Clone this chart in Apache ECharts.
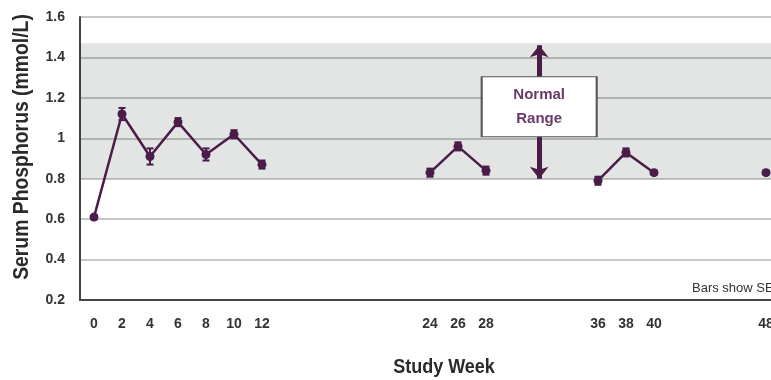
<!DOCTYPE html>
<html>
<head>
<meta charset="utf-8">
<script src="https://cdn.jsdelivr.net/npm/echarts@6/dist/echarts.min.js"></script>
<style>
  html, body { margin: 0; padding: 0; background: #fff; }
  #chart { width: 771px; height: 380px; }
</style>
</head>
<body>
<div id="chart"></div>
<script>
// Mean serum phosphorus by study week, with standard error of the mean
const weeks = [0, 2, 4, 6, 8, 10, 12, 24, 26, 28, 36, 38, 40, 48];
const phosphorus = [0.61, 1.12, 0.91, 1.08, 0.92, 1.02, 0.87, 0.83, 0.96, 0.84, 0.79, 0.93, 0.83, 0.83];
const sem = [0.01, 0.03, 0.04, 0.02, 0.03, 0.02, 0.02, 0.02, 0.02, 0.02, 0.02, 0.02, 0.01, 0.01];
const weekTicks = [0, 2, 4, 6, 8, 10, 12, 24, 26, 28, 36, 38, 40, 48];
const normalRange = [0.8, 1.47];
const normalArrow = { week: 31.8, low: 0.8, high: 1.46, boxY: 1.156 };

const PURPLE = '#4a1c48';
const SANS = "'Liberation Sans', Arial, sans-serif";

// Break the line wherever visits are more than two weeks apart
const segments = [];
weeks.forEach((w, i) => {
  if (i === 0 || w - weeks[i - 1] > 2) segments.push([]);
  segments[segments.length - 1].push([w, phosphorus[i]]);
});

const lineSeries = segments.map(seg => ({
  type: 'line',
  data: seg,
  symbol: 'circle',
  symbolSize: 9,
  lineStyle: { color: PURPLE, width: 2.5 },
  itemStyle: { color: PURPLE },
  z: 5,
  silent: true
}));

const errorData = weeks.map((w, i) => [w, phosphorus[i] - sem[i], phosphorus[i] + sem[i]]);

const chart = echarts.init(document.getElementById('chart'), null, { renderer: 'canvas' });

chart.setOption({
  animation: false,
  backgroundColor: '#fff',
  grid: { left: 80, top: 17, width: 714, height: 283, containLabel: false, outerBoundsMode: 'none' },
  xAxis: {
    type: 'value',
    min: -1,
    max: 50,
    splitLine: { show: false },
    axisLine: { show: true, onZero: false, lineStyle: { color: '#444', width: 2 } },
    axisTick: { show: false },
    axisLabel: {
      customValues: weekTicks,
      margin: 17,
      color: '#333',
      fontFamily: SANS,
      fontWeight: 'bold',
      fontSize: 14
    }
  },
  yAxis: {
    type: 'value',
    min: 0.2,
    max: 1.6,
    interval: 0.2,
    axisLine: { show: true, onZero: false, lineStyle: { color: '#444', width: 2 } },
    axisTick: { show: false },
    splitLine: { lineStyle: { color: '#b4b4b4', width: 1.5 } },
    axisLabel: {
      margin: 15,
      color: '#333',
      fontFamily: SANS,
      fontWeight: 'bold',
      fontSize: 14,
      formatter: v => String(Math.round(v * 10) / 10)
    }
  },
  series: [
    {
      // shaded normal range band and the double-headed arrow
      type: 'line',
      data: [],
      silent: true,
      z: 3,
      markArea: {
        silent: true,
        itemStyle: { color: 'rgba(0,12,12,0.11)' },
        data: [[{ yAxis: normalRange[0] }, { yAxis: normalRange[1] }]]
      },
      markLine: {
        silent: true,
        symbol: ['arrow', 'arrow'],
        symbolSize: [14, 12],
        label: { show: false },
        lineStyle: { color: PURPLE, width: 5, type: 'solid' },
        data: [[
          { coord: [normalArrow.week, normalArrow.low] },
          { coord: [normalArrow.week, normalArrow.high] }
        ]]
      }
    },
    {
      // "Normal Range" label box
      type: 'line',
      data: [],
      silent: true,
      z: 6,
      markPoint: {
        silent: true,
        symbol: 'rect',
        symbolSize: [115, 60],
        itemStyle: { color: '#fff', borderColor: '#555', borderWidth: 1.5 },
        label: {
          show: true,
          position: 'inside',
          formatter: 'Normal\nRange',
          color: '#6a3a68',
          fontFamily: SANS,
          fontWeight: 'bold',
          fontSize: 15,
          lineHeight: 24
        },
        data: [{ coord: [normalArrow.week, normalArrow.boxY] }]
      }
    },
    {
      // SEM error bars
      type: 'custom',
      data: errorData,
      silent: true,
      z: 4,
      renderItem: (params, api) => {
        const lo = api.coord([api.value(0), api.value(1)]);
        const hi = api.coord([api.value(0), api.value(2)]);
        const cap = 3.5;
        const style = { stroke: PURPLE, lineWidth: 2 };
        return {
          type: 'group',
          children: [
            { type: 'line', shape: { x1: lo[0], y1: lo[1], x2: hi[0], y2: hi[1] }, style },
            { type: 'line', shape: { x1: lo[0] - cap, y1: lo[1], x2: lo[0] + cap, y2: lo[1] }, style },
            { type: 'line', shape: { x1: hi[0] - cap, y1: hi[1], x2: hi[0] + cap, y2: hi[1] }, style }
          ]
        };
      }
    },
    ...lineSeries
  ],
  graphic: [
    {
      type: 'text',
      x: 22,
      y: 147,
      rotation: Math.PI / 2,
      scaleX: 0.88,
      style: {
        text: 'Serum Phosphorus (mmol/L)',
        fill: '#2a2a2a',
        font: "bold 22px 'Liberation Sans', Arial, sans-serif",
        textAlign: 'center',
        textVerticalAlign: 'middle'
      }
    },
    {
      type: 'text',
      x: 444,
      y: 367,
      scaleX: 0.9,
      style: {
        text: 'Study Week',
        fill: '#2a2a2a',
        font: "bold 20px 'Liberation Sans', Arial, sans-serif",
        textAlign: 'center',
        textVerticalAlign: 'middle'
      }
    },
    {
      type: 'text',
      x: 692,
      y: 288,
      style: {
        text: 'Bars show SEM',
        fill: '#333',
        font: "13px 'Liberation Sans', Arial, sans-serif",
        textAlign: 'left',
        textVerticalAlign: 'middle'
      }
    }
  ]
});
</script>
</body>
</html>
